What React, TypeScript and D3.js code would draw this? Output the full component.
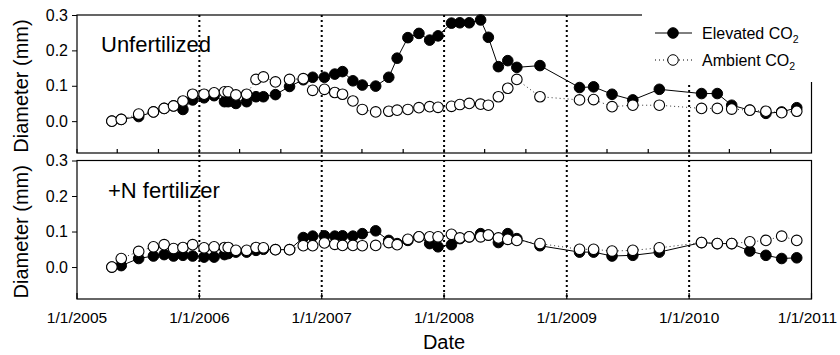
import React, { useEffect, useRef } from 'react';
import * as d3 from 'd3';

// sampling dates (shared by all four series)
const dates = [
  '2005-04-15', '2005-05-13', '2005-07-04', '2005-08-17', '2005-09-18', '2005-10-16', '2005-11-13', '2005-12-12',
  '2006-01-15', '2006-02-14', '2006-03-17', '2006-03-28', '2006-04-20', '2006-05-22', '2006-06-19', '2006-07-11',
  '2006-08-16', '2006-09-27', '2006-11-07', '2006-12-05', '2007-01-09', '2007-02-09', '2007-03-04', '2007-04-04',
  '2007-05-02', '2007-06-11', '2007-07-20', '2007-08-14', '2007-09-15', '2007-10-18', '2007-11-19', '2007-12-14',
  '2008-01-23', '2008-02-17', '2008-03-16', '2008-04-19', '2008-05-12', '2008-06-11', '2008-07-09', '2008-08-05',
  '2008-10-13', '2009-02-08', '2009-03-22', '2009-05-16', '2009-07-17', '2009-10-04', '2010-02-07', '2010-03-26',
  '2010-05-08', '2010-07-01', '2010-08-18', '2010-10-04', '2010-11-18',
];

// Unfertilized
const unfElevated = [
  0.0, 0.005, 0.013, 0.026, 0.036, 0.043, 0.033, 0.06, 0.066, 0.072, 0.055, 0.055, 0.05, 0.055, 0.069, 0.069,
  0.075, 0.098, 0.117, 0.124, 0.124, 0.133, 0.14, 0.114, 0.102, 0.099, 0.124, 0.178, 0.236, 0.248, 0.229, 0.241,
  0.277, 0.278, 0.278, 0.286, 0.237, 0.154, 0.171, 0.152, 0.157, 0.095, 0.097, 0.076, 0.06, 0.09, 0.078, 0.078,
  0.045, 0.031, 0.022, 0.026, 0.038,
];
const unfAmbient = [
  0.0, 0.005, 0.02, 0.026, 0.036, 0.043, 0.057, 0.076, 0.076, 0.08, 0.083, 0.083, 0.074, 0.076, 0.118, 0.125,
  0.111, 0.118, 0.12, 0.087, 0.09, 0.081, 0.076, 0.057, 0.033, 0.026, 0.028, 0.031, 0.033, 0.038, 0.041, 0.039,
  0.042, 0.047, 0.05, 0.048, 0.045, 0.069, 0.093, 0.118, 0.069, 0.06, 0.061, 0.041, 0.045, 0.045, 0.036, 0.036,
  0.034, 0.031, 0.028, 0.024, 0.028,
];

// +N fertilizer
const nElevated = [
  0.0, 0.004, 0.024, 0.031, 0.035, 0.031, 0.033, 0.031, 0.028, 0.028, 0.035, 0.038, 0.042, 0.042, 0.047, 0.05,
  0.049, 0.049, 0.083, 0.087, 0.088, 0.087, 0.088, 0.087, 0.094, 0.102, 0.075, 0.066, 0.075, 0.085, 0.066, 0.057,
  0.063, 0.08, 0.085, 0.094, 0.09, 0.069, 0.094, 0.08, 0.06, 0.042, 0.042, 0.031, 0.033, 0.042, 0.069, 0.066,
  0.066, 0.045, 0.033, 0.024, 0.026,
];
const nAmbient = [
  0.0, 0.024, 0.044, 0.057, 0.063, 0.052, 0.055, 0.063, 0.054, 0.057, 0.055, 0.055, 0.047, 0.047, 0.055, 0.054,
  0.049, 0.049, 0.06, 0.06, 0.068, 0.064, 0.061, 0.061, 0.06, 0.061, 0.069, 0.063, 0.078, 0.085, 0.085, 0.085,
  0.092, 0.082, 0.085, 0.085, 0.09, 0.082, 0.078, 0.075, 0.066, 0.05, 0.05, 0.045, 0.047, 0.054, 0.069, 0.066,
  0.066, 0.071, 0.075, 0.087, 0.075,
];

const yTicks = [0.0, 0.1, 0.2, 0.3];
const yearTicks = ['2005-01-01', '2006-01-01', '2007-01-01', '2008-01-01', '2009-01-01', '2010-01-01', '2011-01-01'];

const FONT = "'Liberation Sans', Arial, sans-serif";

const App = () => {
  const svgRef = useRef<SVGSVGElement>(null);

  useEffect(() => {
    document.body.style.margin = '0';
    const svg = d3.select(svgRef.current);
    svg.selectAll('*').remove();

    const parse = d3.timeParse('%Y-%m-%d');
    const xs = dates.map(d => parse(d) as Date);
    const x = d3.scaleTime()
      .domain([parse('2005-01-01') as Date, parse('2011-01-01') as Date])
      .range([77, 811.5]);

    const panels = [
      { top: 15, bottom: 153, elevated: unfElevated, ambient: unfAmbient, label: 'Unfertilized', lx: 101, ly: 52 },
      { top: 160.5, bottom: 299, elevated: nElevated, ambient: nAmbient, label: '+N fertilizer', lx: 108, ly: 198 },
    ];

    // vertical dotted year lines across both panels
    svg.append('g')
      .selectAll('line')
      .data(yearTicks.slice(1, -1))
      .enter().append('line')
      .attr('x1', d => x(parse(d) as Date)).attr('x2', d => x(parse(d) as Date))
      .attr('y1', 15).attr('y2', 299)
      .attr('stroke', '#000').attr('stroke-width', 2)
      .attr('stroke-dasharray', '2,3');

    panels.forEach((p, i) => {
      const y = d3.scaleLinear().domain([-0.09, 0.3]).range([p.bottom, p.top]);
      const g = svg.append('g');

      // frame
      g.append('rect')
        .attr('x', 77).attr('y', p.top)
        .attr('width', 811.5 - 77).attr('height', p.bottom - p.top)
        .attr('fill', 'none').attr('stroke', '#000').attr('stroke-width', 1.2);

      // y axis
      const yAxis = d3.axisLeft(y).tickValues(yTicks).tickFormat(d3.format('.1f')).tickSize(5).tickSizeOuter(0);
      g.append('g')
        .attr('transform', 'translate(77,0)')
        .call(yAxis)
        .call(a => a.select('.domain').remove())
        .call(a => a.selectAll('line').attr('stroke', '#000'))
        .call(a => a.selectAll('text')
          .attr('font-family', FONT).attr('font-size', 16).attr('fill', '#000')
          .attr('x', -9));

      // inward x ticks
      const tickDates = i === 0
        ? d3.timeMonth.every(4)!.range(x.domain()[0], x.domain()[1])
        : yearTicks.map(d => parse(d) as Date);
      g.append('g')
        .selectAll('line')
        .data(tickDates)
        .enter().append('line')
        .attr('x1', d => x(d)).attr('x2', d => x(d))
        .attr('y1', p.bottom).attr('y2', p.bottom - (i === 0 ? 4 : 6))
        .attr('stroke', '#000').attr('stroke-width', 1.2);

      const line = d3.line<number>()
        .x((_, k) => x(xs[k]))
        .y(v => y(v));

      g.append('path')
        .datum(p.ambient)
        .attr('d', line)
        .attr('fill', 'none').attr('stroke', '#333').attr('stroke-width', 1)
        .attr('stroke-dasharray', '1,3');

      g.append('path')
        .datum(p.elevated)
        .attr('d', line)
        .attr('fill', 'none').attr('stroke', '#000').attr('stroke-width', 1);

      g.append('g')
        .selectAll('circle')
        .data(p.elevated)
        .enter().append('circle')
        .attr('cx', (_, k) => x(xs[k])).attr('cy', v => y(v))
        .attr('r', 5.3).attr('fill', '#000').attr('stroke', '#000');

      g.append('g')
        .selectAll('circle')
        .data(p.ambient)
        .enter().append('circle')
        .attr('cx', (_, k) => x(xs[k])).attr('cy', v => y(v))
        .attr('r', 5.3).attr('fill', '#fff').attr('stroke', '#000').attr('stroke-width', 1.1);

      g.append('text')
        .attr('x', p.lx).attr('y', p.ly)
        .attr('font-family', FONT).attr('font-size', 22)
        .text(p.label);

      g.append('text')
        .attr('transform', `translate(28,${(p.top + p.bottom) / 2 + 2}) rotate(-90)`)
        .attr('text-anchor', 'middle')
        .attr('font-family', FONT).attr('font-size', 20)
        .text('Diameter (mm)');
    });

    // x tick labels (last one kept inside the page, as in the original)
    svg.append('g')
      .selectAll('text')
      .data(yearTicks)
      .enter().append('text')
      .attr('x', (d, k) => k === yearTicks.length - 1 ? 837 : x(parse(d) as Date))
      .attr('y', 323)
      .attr('text-anchor', (_, k) => k === yearTicks.length - 1 ? 'end' : 'middle')
      .attr('font-family', FONT).attr('font-size', 15.5)
      .text(d => { const t = parse(d) as Date; return `1/1/${t.getFullYear()}`; });

    svg.append('text')
      .attr('x', 444).attr('y', 349)
      .attr('text-anchor', 'middle')
      .attr('font-family', FONT).attr('font-size', 20)
      .text('Date');

    // legend (white box covers the frame corner)
    svg.append('rect')
      .attr('x', 642).attr('y', 0).attr('width', 198).attr('height', 82)
      .attr('fill', '#fff');

    const legendItems = [
      { name: 'Elevated CO', fill: '#000', dash: null, y: 33 },
      { name: 'Ambient CO', fill: '#fff', dash: '1,3', y: 60 },
    ];
    const legend = svg.append('g');
    legendItems.forEach(it => {
      legend.append('line')
        .attr('x1', 655).attr('x2', 692).attr('y1', it.y).attr('y2', it.y)
        .attr('stroke', '#000').attr('stroke-width', 1)
        .attr('stroke-dasharray', it.dash);
      legend.append('circle')
        .attr('cx', 673).attr('cy', it.y).attr('r', 5.3)
        .attr('fill', it.fill).attr('stroke', '#000');
      const t = legend.append('text')
        .attr('x', 702).attr('y', it.y + 5.5)
        .attr('font-family', FONT).attr('font-size', 16);
      t.append('tspan').text(it.name);
      t.append('tspan').attr('dy', 4).attr('font-size', 10.5).text('2');
    });
  }, []);

  return <svg ref={svgRef} width={840} height={355} style={{ display: 'block', background: '#fff' }} />;
};

export default App;
